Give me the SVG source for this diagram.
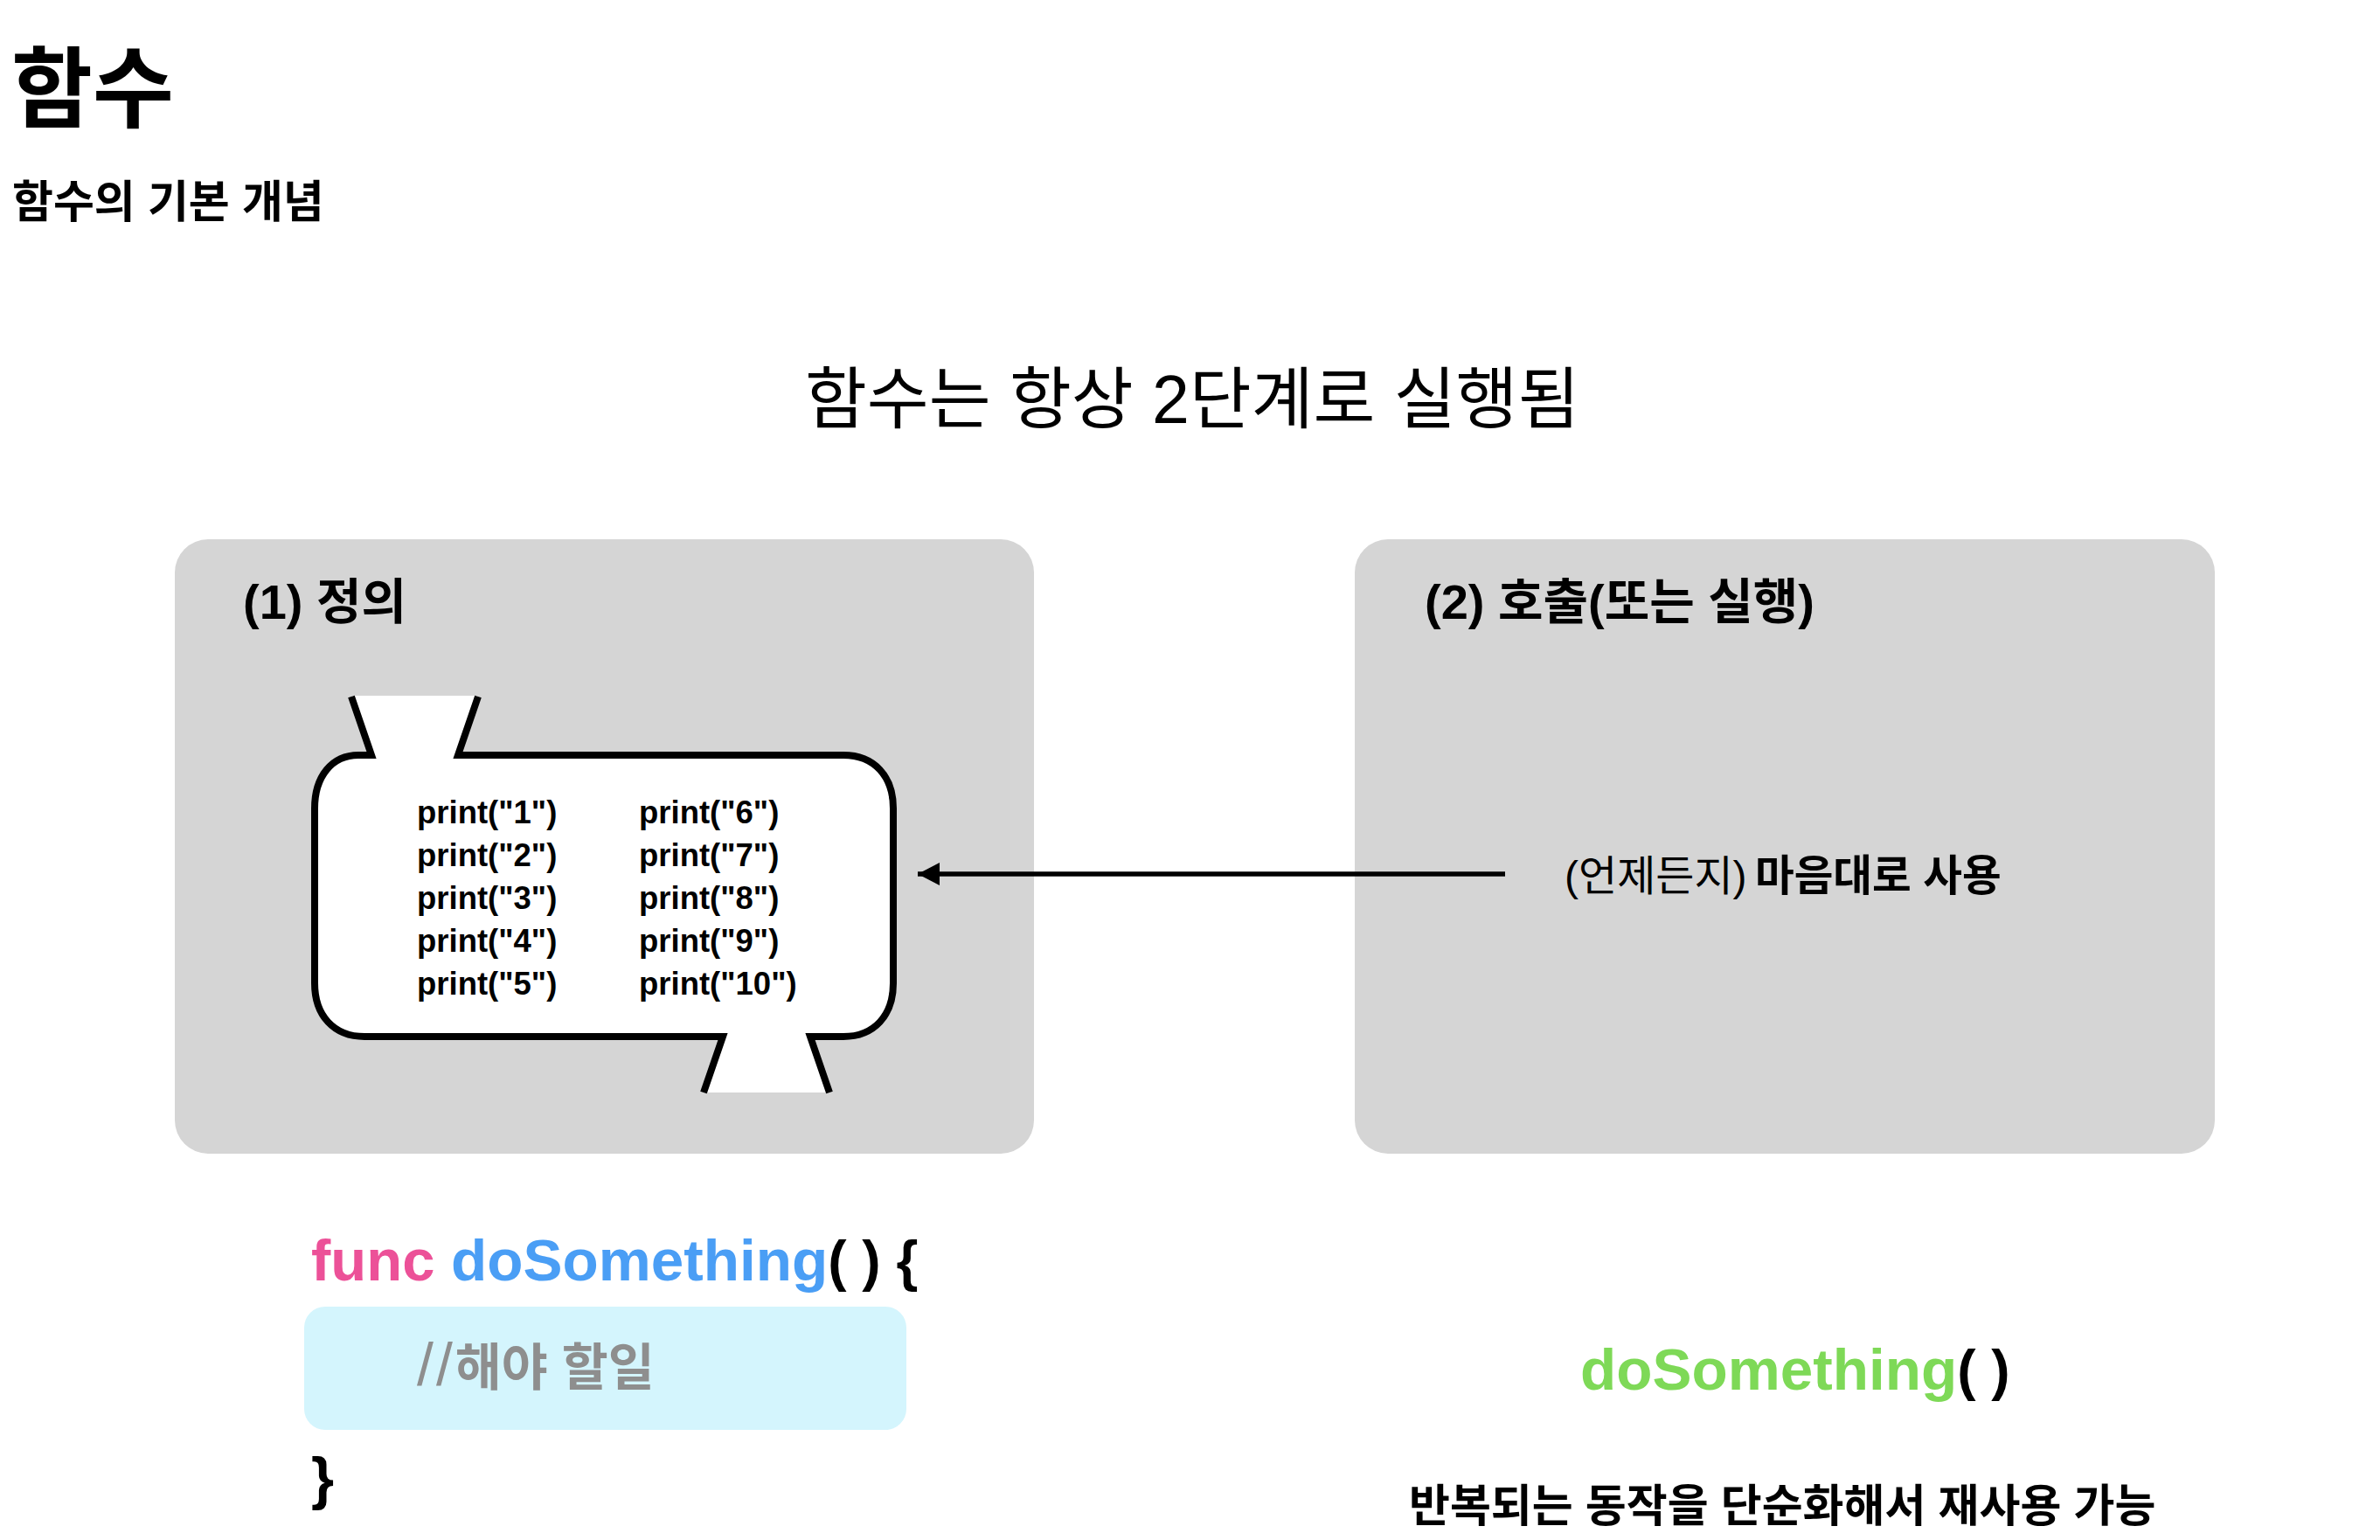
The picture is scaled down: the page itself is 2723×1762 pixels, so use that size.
<svg xmlns="http://www.w3.org/2000/svg" width="2723" height="1762" viewBox="0 0 2723 1762">
<style>
text{font-family:"Liberation Sans","Noto Sans CJK KR",sans-serif;fill:#000}
.b{font-weight:700}
.panel{fill:#d5d5d5}
.p{font-size:36.5px;font-weight:700}
.code{font-size:67px;font-weight:700}
</style>
<defs><marker id="ah" markerUnits="userSpaceOnUse" markerWidth="27" markerHeight="28" refX="26" refY="14" orient="auto"><path d="M26 14L1 1V27Z" fill="#000"/></marker></defs>
<rect width="2723" height="1762" fill="#fff"/>
<g id="title"><text x="13" y="138" class="b" font-size="101">함수</text><text x="14" y="249" class="b" font-size="51">함수의 기본 개념</text></g>
<g id="heading"><text x="921" y="484" font-size="77">함수는 항상 2단계로 실행됨</text></g>
<g id="panel-define"><rect class="panel" x="200" y="617" width="983" height="703" rx="38"/><text x="278" y="708" class="b" font-size="56">(1) 정의</text>
<path d="M360 925C360 888 380 864 410 864H425L403 796H546L524 864H965C1000 864 1022 888 1022 925V1125C1022 1162 1000 1186 965 1186H927L948 1250H806L827 1186H417C382 1186 360 1162 360 1125Z" fill="#fff"/>
<path d="M402 797L425 864H410C380 864 360 888 360 925V1125C360 1162 382 1186 417 1186H827L805 1250M949 1250L927 1186H965C1000 1186 1022 1162 1022 1125V925C1022 888 1000 864 965 864H524L547 797" fill="none" stroke="#000" stroke-width="8"/>
<text class="p" x="477" y="942">print("1")</text><text class="p" x="477" y="991">print("2")</text><text class="p" x="477" y="1040">print("3")</text><text class="p" x="477" y="1089">print("4")</text><text class="p" x="477" y="1138">print("5")</text><text class="p" x="731" y="942">print("6")</text><text class="p" x="731" y="991">print("7")</text><text class="p" x="731" y="1040">print("8")</text><text class="p" x="731" y="1089">print("9")</text><text class="p" x="731" y="1138">print("10")</text></g>
<g id="panel-call"><rect class="panel" x="1550" y="617" width="984" height="703" rx="38"/><text x="1630" y="708" class="b" font-size="56">(2) 호출(또는 실행)</text><text x="1790" y="1019" font-size="48">(언제든지) <tspan class="b" dx="-4" font-size="48.6">마음대로 사용</tspan></text></g>
<g id="connectors"><line x1="1722" y1="1000" x2="1050" y2="1000" stroke="#000" stroke-width="5.5" marker-end="url(#ah)"/></g>
<g id="code-define"><text x="356" y="1465" class="code"><tspan style="fill:#ec5198">func</tspan> <tspan style="fill:#4a9ef5;font-size:67.5px">doSomething</tspan><tspan font-size="64">( ) {</tspan></text><rect x="348" y="1495" width="689" height="141" rx="24" fill="#d4f5fd"/><text x="477" y="1585" class="b" style="fill:#8e8e8e"><tspan font-size="68" font-weight="400" letter-spacing="3">//</tspan><tspan font-size="57.6">해야 할일</tspan></text><text x="356" y="1714" class="code">}</text></g>
<g id="code-call"><text x="1808" y="1590" class="code"><tspan style="fill:#7ed957;font-size:67.5px">doSomething</tspan><tspan font-size="64">( )</tspan></text><text x="1612" y="1741" class="b" font-size="51">반복되는 동작을 단순화해서 재사용 가능</text></g>
</svg>
